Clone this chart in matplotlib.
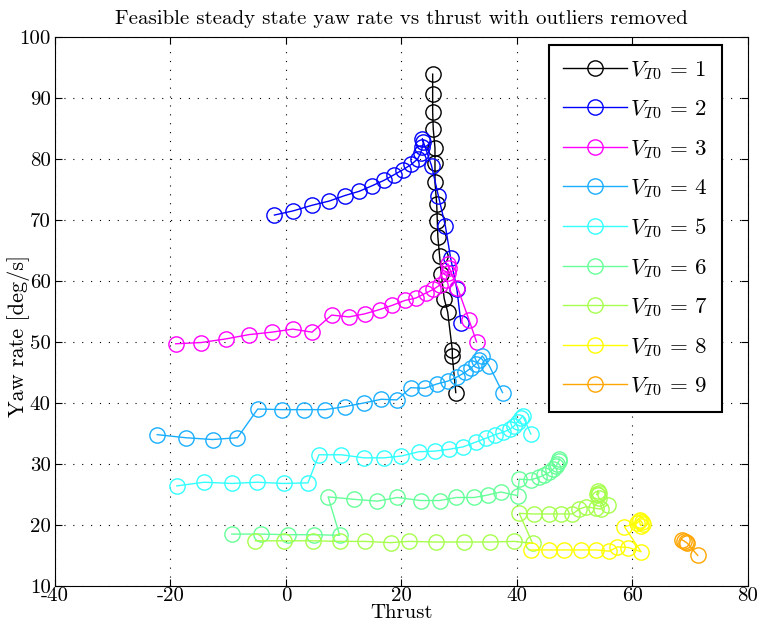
import matplotlib
matplotlib.use("Agg")
import matplotlib.pyplot as plt

plt.rcParams["font.family"] = "cmr10"
plt.rcParams["mathtext.fontset"] = "cm"
plt.rcParams["axes.formatter.use_mathtext"] = False
plt.rcParams["axes.unicode_minus"] = False

# thrust / yaw rate pairs for each initial speed V_T0
thrust_v1 = [25.4, 25.4, 25.4, 25.5, 25.8, 25.8, 25.8, 26.1, 26.2, 26.3, 26.6, 26.9, 27.4, 28.0, 28.8, 28.8, 29.4]
yaw_v1 = [93.9, 90.7, 87.7, 84.9, 81.8, 79.3, 76.2, 72.6, 69.9, 67.2, 64.1, 61.1, 57.1, 54.9, 48.7, 47.7, 41.7]

thrust_v2 = [-2.0, 1.3, 4.5, 7.5, 10.2, 12.7, 14.9, 17.0, 18.7, 20.2, 21.7, 22.8, 23.3, 23.6, 23.8, 23.6,
             25.2, 26.4, 27.6, 28.5, 29.6, 30.3]
yaw_v2 = [70.8, 71.5, 72.4, 73.1, 74.0, 74.7, 75.6, 76.5, 77.4, 78.2, 79.1, 80.0, 80.9, 81.9, 82.8, 83.3,
          78.9, 73.9, 69.0, 63.8, 58.6, 53.1]

thrust_v3 = [-19.1, -14.7, -10.4, -6.4, -2.5, 1.2, 4.5, 7.9, 10.9, 13.6, 16.2, 18.4, 20.6, 22.5, 24.2,
             25.5, 26.6, 27.7, 28.0, 28.2, 28.0, 29.7, 31.7, 33.0]
yaw_v3 = [49.7, 49.9, 50.5, 51.2, 51.6, 52.1, 51.6, 54.4, 54.1, 54.6, 55.3, 56.0, 56.8, 57.2, 58.0,
          58.6, 59.3, 60.2, 61.3, 62.1, 62.8, 58.9, 53.6, 50.0]

thrust_v4 = [-22.3, -17.4, -12.7, -8.4, -4.9, -0.7, 3.1, 6.8, 10.2, 13.5, 16.5, 19.2, 21.6, 24.0, 26.1,
             28.1, 29.7, 31.0, 32.0, 32.9, 33.4, 34.0, 35.2, 37.5]
yaw_v4 = [34.8, 34.3, 34.0, 34.3, 39.0, 38.9, 38.9, 38.9, 39.4, 40.0, 40.6, 40.5, 42.5, 42.4, 43.1,
          43.6, 44.3, 45.0, 45.7, 46.4, 47.0, 47.7, 46.1, 41.7]

thrust_v5 = [-18.9, -14.2, -9.4, -5.0, -0.4, 3.8, 5.7, 9.6, 13.5, 17.0, 20.0, 23.0, 25.8, 28.2, 30.7,
             32.9, 34.6, 36.2, 37.6, 38.8, 39.5, 40.1, 40.7, 41.0, 42.4]
yaw_v5 = [26.4, 27.0, 26.8, 27.0, 26.8, 26.9, 31.5, 31.5, 31.0, 31.0, 31.3, 32.0, 32.1, 32.4, 32.8,
          33.6, 34.2, 34.8, 35.2, 35.7, 36.2, 36.9, 37.5, 37.9, 34.9]

thrust_v6 = [-9.4, -4.4, 0.4, 4.9, 9.3, 7.3, 11.8, 15.8, 19.3, 23.3, 26.6, 29.5, 32.6, 34.9, 37.2,
             40.1, 40.4, 42.4, 43.8, 44.7, 45.6, 46.2, 46.7, 47.0, 47.3, 47.3]
yaw_v6 = [18.5, 18.5, 18.4, 18.4, 18.3, 24.6, 24.2, 23.9, 24.5, 24.0, 24.0, 24.5, 24.5, 24.9, 25.4,
          24.8, 27.5, 27.4, 27.8, 28.2, 28.6, 29.1, 29.6, 30.0, 30.5, 30.8]

thrust_v7 = [-5.3, -0.4, 4.6, 9.4, 13.7, 18.1, 21.3, 26.0, 30.8, 35.3, 39.5, 42.7,
             40.4, 42.9, 45.5, 47.7, 49.6, 50.8, 52.0, 53.7, 54.5, 55.7, 54.2, 54.0, 54.2, 54.0, 53.8]
yaw_v7 = [17.4, 17.4, 17.4, 17.3, 17.3, 17.1, 17.3, 17.2, 17.2, 17.2, 17.3, 17.0,
          21.9, 21.8, 21.8, 21.8, 21.8, 22.6, 23.0, 22.7, 22.6, 23.3, 24.4, 24.9, 25.3, 25.6, 25.0]

thrust_v8 = [42.4, 45.6, 48.2, 51.1, 53.7, 56.0, 57.4, 59.3, 61.5, 58.6, 60.8, 61.3, 61.6, 61.8, 61.4, 61.2]
yaw_v8 = [15.9, 15.9, 15.9, 15.9, 15.9, 15.7, 16.4, 16.3, 15.6, 19.7, 20.3, 20.8, 20.5, 20.1, 19.9, 20.6]

thrust_v9 = [68.5, 68.9, 69.2, 69.5, 71.3]
yaw_v9 = [17.6, 17.4, 17.2, 17.0, 15.0]

series = [
    (thrust_v1, yaw_v1, "#000000"),
    (thrust_v2, yaw_v2, "#0000ff"),
    (thrust_v3, yaw_v3, "#ff00ff"),
    (thrust_v4, yaw_v4, "#1aaeff"),
    (thrust_v5, yaw_v5, "#33ffff"),
    (thrust_v6, yaw_v6, "#66ff99"),
    (thrust_v7, yaw_v7, "#a6ff4d"),
    (thrust_v8, yaw_v8, "#ffff00"),
    (thrust_v9, yaw_v9, "#ffa500"),
]

fig = plt.figure(figsize=(7.64, 6.26), dpi=100)
ax = fig.add_axes([0.072, 0.064, 0.907, 0.877])

for i, (x, y, c) in enumerate(series, start=1):
    ax.plot(x, y, "-o", color=c, mfc="none", mec=c, ms=11, lw=1.0, mew=1.0,
            label=r"$V_{T0}\,=\,%d$" % i)

ax.set_xlim(-40, 80)
ax.set_ylim(10, 100)
ax.set_xticks(range(-40, 81, 20))
ax.set_yticks(range(10, 101, 10))
ax.grid(True, ls=(0, (1, 7)), color="black", lw=0.8)
ax.tick_params(direction="in", top=True, right=True, labelsize=15, length=5)
ax.tick_params(axis="x", pad=1)
ax.tick_params(axis="y", pad=3)
for s in ax.spines.values():
    s.set_linewidth(0.8)

ax.set_title("Feasible steady state yaw rate vs thrust with outliers removed", fontsize=15, pad=9)
ax.set_xlabel("Thrust", fontsize=15)
ax.set_ylabel("Yaw rate [deg/s]", fontsize=16)
ax.xaxis.set_label_coords(0.5, -0.033)
ax.yaxis.set_label_coords(-0.036, 0.455)

leg = ax.legend(loc="upper right", bbox_to_anchor=(0.9625, 0.985), borderaxespad=0,
                fontsize=16.5, handlelength=2.8, handletextpad=0.15, labelspacing=0.72,
                borderpad=0.6, fancybox=False, framealpha=1, edgecolor="black")
leg.get_frame().set_linewidth(1.5)

fig.savefig("out.png", dpi=100)
